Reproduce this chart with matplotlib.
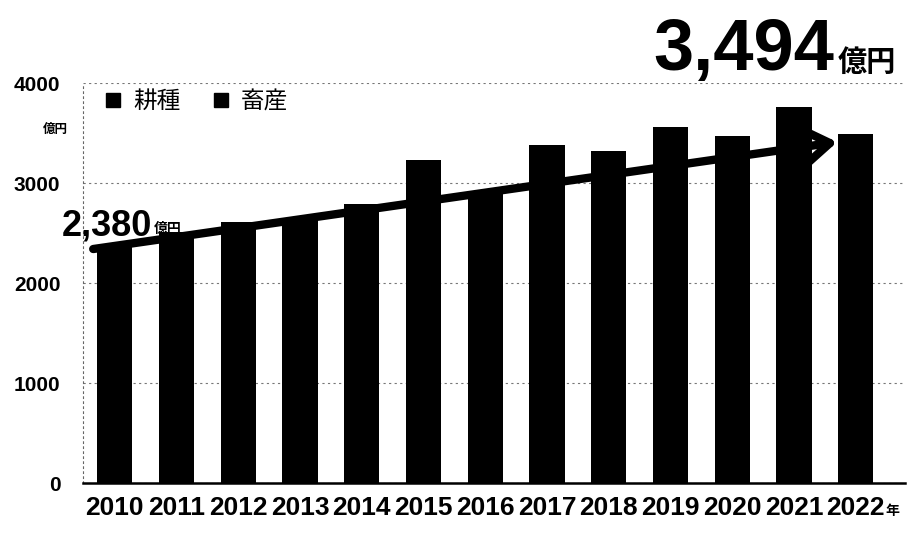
import matplotlib
import matplotlib.pyplot as plt
from matplotlib.lines import Line2D

matplotlib.use("agg")

plt.rcParams["font.family"] = ["Liberation Sans", "Noto Sans CJK JP", "DejaVu Sans"]

# data (total = 耕種 + 畜産, both print black)
years = ["2010", "2011", "2012", "2013", "2014", "2015", "2016",
         "2017", "2018", "2019", "2020", "2021", "2022"]
totals = [2380, 2510, 2610, 2650, 2790, 3230, 2920,
          3380, 3320, 3560, 3470, 3760, 3494]
series_names = ["耕種", "畜産"]
y_ticks = [0, 1000, 2000, 3000, 4000]
first_label = "2,380"
last_label = "3,494"
unit = "億円"

jp = ["Noto Sans CJK JP", "DejaVu Sans"]
narrow = ["Liberation Sans Narrow", "Liberation Sans"]

fig = plt.figure(figsize=(9.19, 5.34), dpi=100)
ax = fig.add_axes([0.090, 0.0955, 0.895, 0.749])

x = list(range(len(years)))
ax.bar(x, totals, width=0.57, color="black", zorder=2)

ax.set_xlim(-0.52, 12.8)
ax.set_ylim(0, 4000)
ax.set_yticks(y_ticks)
ax.set_yticklabels([str(v) for v in y_ticks], fontsize=15, fontweight="bold")
ax.set_xticks(x)
ax.set_xticklabels(years, fontsize=19, fontweight="bold", family=narrow)
ax.tick_params(length=0)
ax.tick_params(axis="x", pad=9)
ax.tick_params(axis="y", pad=16)

for s in ["top", "right"]:
    ax.spines[s].set_visible(False)
ax.spines["left"].set_linestyle((0, (1.5, 3)))
ax.spines["left"].set_color("#666666")
ax.spines["left"].set_linewidth(0.8)
ax.spines["bottom"].set_linewidth(1.8)
ax.grid(axis="y", linestyle=(0, (2, 3)), color="#777777", linewidth=0.8, zorder=0)
ax.set_axisbelow(True)

# unit under the y axis top and after the last year
fig.text(0.06, 0.757, unit, family=jp, fontsize=9, fontweight="bold",
         ha="center", va="center")
last_tick = ax.get_xticklabels()[-1]
ax.annotate("年", xy=(1, 0), xycoords=last_tick, xytext=(0, 1),
            textcoords="offset points", family=jp, fontsize=10,
            fontweight="bold", ha="left", va="bottom")

# legend
handles = [Line2D([], [], marker="s", color="black", linestyle="none",
                  markersize=10) for _ in series_names]
ax.legend(handles, series_names, loc="upper left", bbox_to_anchor=(-0.006, 1.035),
          ncol=2, frameon=False, prop={"family": jp, "size": 17},
          handletextpad=0.25, columnspacing=1.1, handlelength=1.2)

# trend arrow
ax.annotate("", xy=(11.7, 3410), xytext=(-0.35, 2340),
            arrowprops=dict(arrowstyle="->,head_length=0.9,head_width=0.6",
                            mutation_scale=22, lw=6, color="black",
                            shrinkA=0, shrinkB=0,
                            capstyle="round", joinstyle="round"),
            zorder=3, annotation_clip=False)

# start value label
t1 = ax.text(-0.86, 2480, first_label, fontsize=26, fontweight="bold",
             ha="left", va="baseline", clip_on=False, zorder=5)
ax.annotate(unit, xy=(1, 0), xycoords=t1, xytext=(1, 5),
            textcoords="offset points", family=jp, fontsize=10,
            fontweight="bold", ha="left", va="bottom", zorder=5)

# end value label
fig.text(0.908, 0.868, last_label, fontsize=52, fontweight="bold",
         ha="right", va="baseline")
fig.text(0.912, 0.868, unit, family=jp, fontsize=21, fontweight="bold",
         ha="left", va="baseline")

fig.savefig("out.png", dpi=100)
